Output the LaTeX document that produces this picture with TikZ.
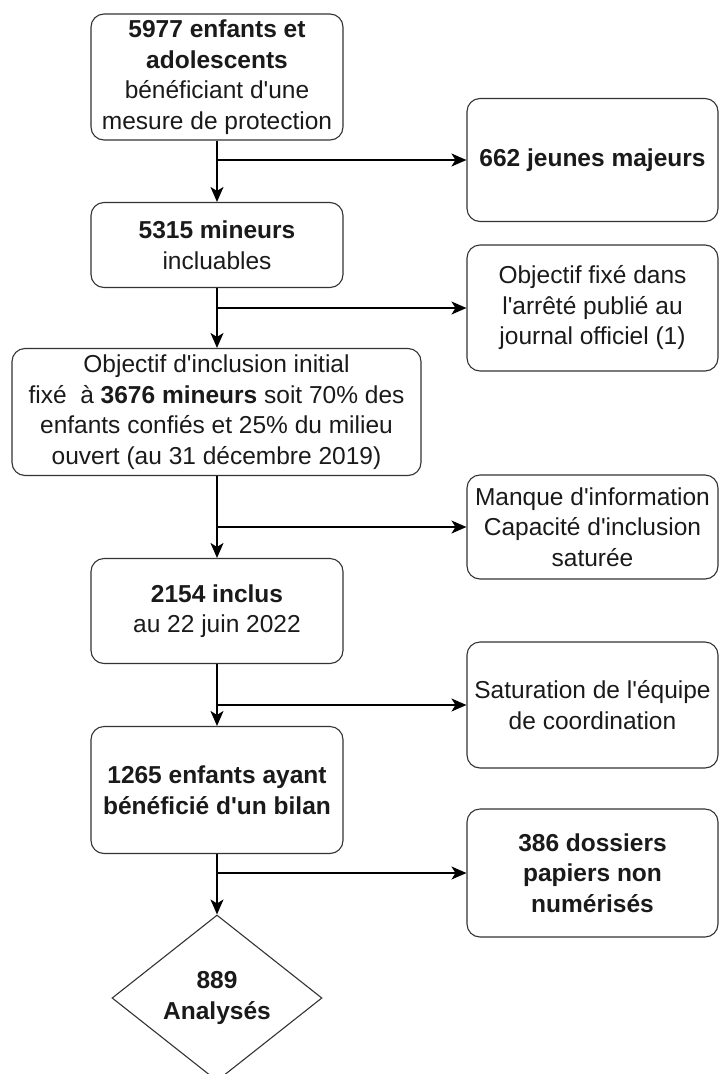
\documentclass[tikz,border=0pt]{standalone}
\usepackage{fontspec}
\setmainfont{Liberation Sans}[Ligatures=TeXOff]
\usetikzlibrary{shapes.geometric,arrows.meta}
\definecolor{boxgrey}{HTML}{333333}
\definecolor{textgrey}{HTML}{1A1A1A}

\begin{document}
\begin{tikzpicture}[x=1pt,y=-1pt,
  box/.style={draw=boxgrey,line width=1.1pt,rounded corners=13pt,align=center,
    inner sep=2pt,text=textgrey,font=\fontsize{24.5}{30.5}\selectfont},
  leftbox/.style={box,minimum width=252pt},
  rightbox/.style={box,minimum width=251pt},
  flow/.style={line width=1.3pt,-{Stealth[length=15pt,width=13pt,inset=4pt]}}]
\useasboundingbox (0,0) rectangle (719,1074);
\node[leftbox,minimum height=126pt] (enfants) at (217,77)
  {\textbf{5977 enfants et}\\\textbf{adolescents}\\bénéficiant d'une\\mesure de protection};
\node[rightbox,minimum height=123pt] (majeurs) at (592.5,160) {\textbf{662 jeunes majeurs}};
\node[leftbox,minimum height=85pt] (mineurs) at (217,245) {\textbf{5315 mineurs}\\incluables};
\node[rightbox,minimum height=126pt] (arrete) at (592.5,308)
  {Objectif fixé dans\\l'arrêté publié au\\journal officiel (1)};
\node[box,minimum width=409pt,minimum height=127pt] (objectif) at (216.5,412)
  {Objectif d'inclusion initial\\fixé\ \ à \textbf{3676 mineurs} soit 70\% des\\enfants confiés et 25\% du milieu\\ouvert (au 31 décembre 2019)};
\node[rightbox,minimum height=104pt] (manque) at (592.5,527)
  {Manque d'information\\Capacité d'inclusion\\saturée};
\node[leftbox,minimum height=105pt] (inclus) at (217,611) {\textbf{2154 inclus}\\au 22 juin 2022};
\node[rightbox,minimum height=126pt] (saturation) at (592.5,705)
  {Saturation de l'équipe\\de coordination};
\node[leftbox,minimum height=127pt] (bilan) at (217,790)
  {\textbf{1265 enfants ayant}\\\textbf{bénéficié d'un bilan}};
\node[rightbox,minimum height=128pt] (dossiers) at (592.5,873)
  {\textbf{386 dossiers}\\\textbf{papiers non}\\\textbf{numérisés}};
\node[draw=boxgrey,line width=1.1pt,diamond,aspect=1.265,minimum width=210pt,
  minimum height=166pt,inner sep=0pt,align=center,text=textgrey,
  font=\fontsize{24.5}{30.5}\selectfont] (analyses) at (217,998) {\textbf{889}\\\textbf{Analysés}};

\coordinate (b1) at (enfants.south |- majeurs.west);
\coordinate (b2) at (mineurs.south |- arrete.west);
\coordinate (b3) at (inclus.north |- manque.west);
\coordinate (b4) at (inclus.south |- saturation.west);
\coordinate (b5) at (bilan.south |- dossiers.west);
\draw[flow] (enfants) -- (mineurs);
\draw[flow] (mineurs) -- (objectif.north -| mineurs.south);
\draw[flow] (objectif.south -| inclus.north) -- (inclus);
\draw[flow] (inclus) -- (bilan);
\draw[flow] (bilan) -- (analyses);
\draw[flow] (b1) -- (majeurs);
\draw[flow] (b2) -- (arrete);
\draw[flow] (b3) -- (manque);
\draw[flow] (b4) -- (saturation);
\draw[flow] (b5) -- (dossiers);
\end{tikzpicture}
\end{document}
